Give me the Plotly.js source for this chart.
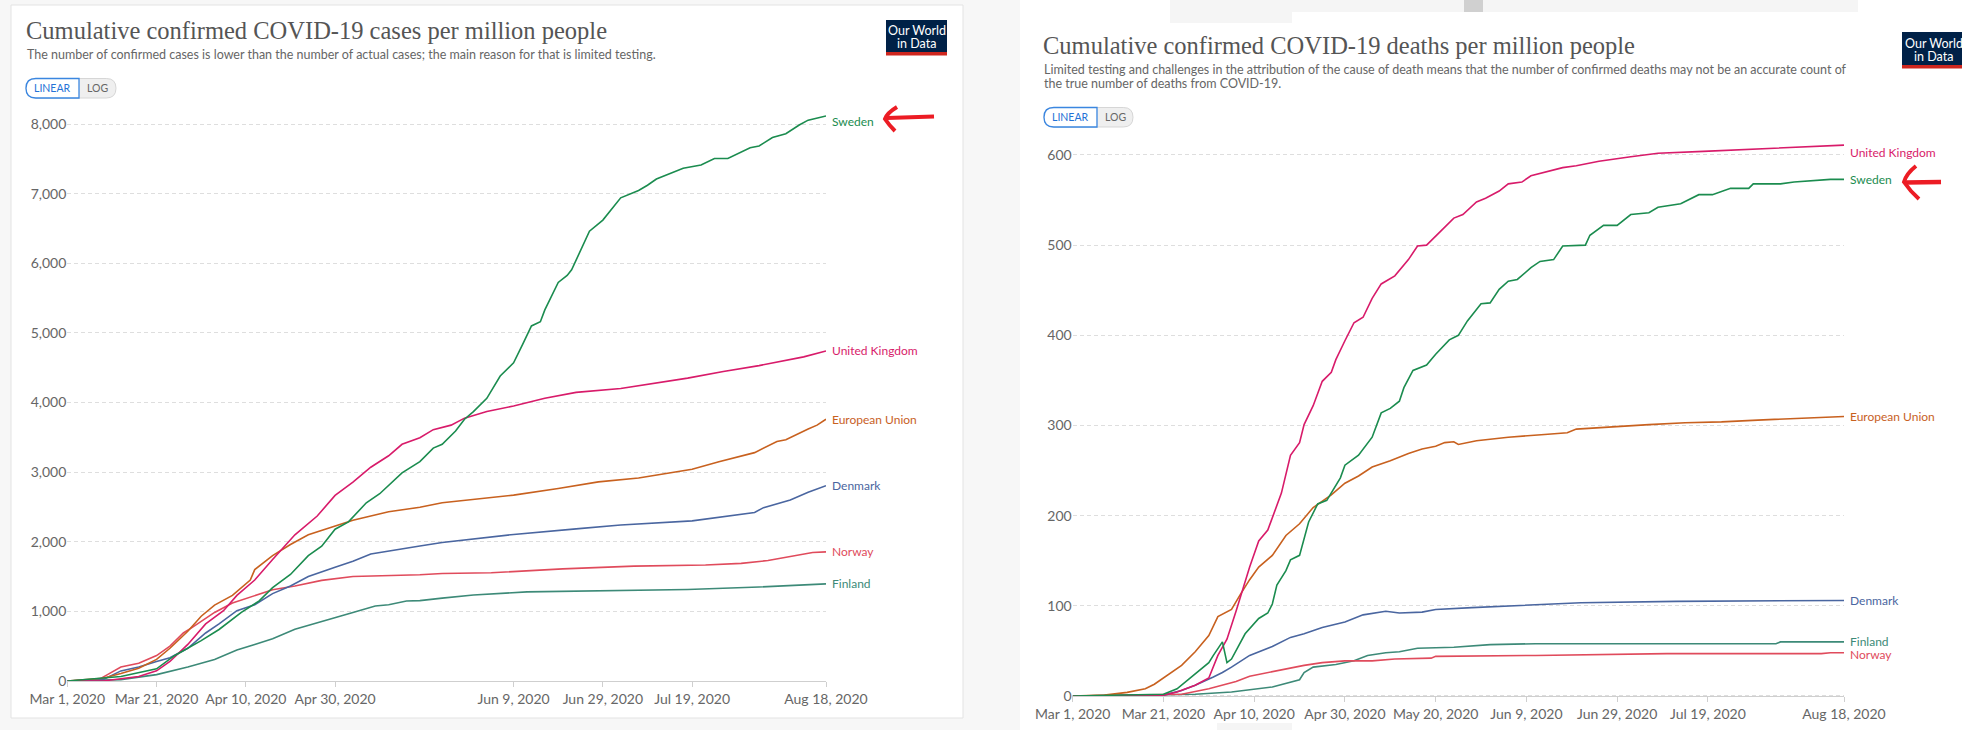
<!DOCTYPE html>
<html>
<head>
<meta charset="utf-8">
<script src="https://cdn.plot.ly/plotly-3.0.1.min.js"></script>
<style>
  html, body { margin: 0; padding: 0; background: #f7f7f7; }
  #chart { width: 1962px; height: 730px; }
</style>
</head>
<body>
<div id="chart"></div>
<script>
// ---- data (days counted from Mar 1, 2020) ----
const countries = ['Sweden', 'United Kingdom', 'European Union', 'Denmark', 'Norway', 'Finland'];

// cumulative confirmed cases per million
const casesSwedenDays = [0,12,20,24,30,34,39,43,46,50,54,57,60,63,67,70,75,79,82,84,87,89,91,94,97,100,102,104,106,107,110,112,113,117,120,124,128,130,132,138,142,145,148,153,155,158,161,164,166,170];
const casesSwedenVals = [1,65,175,363,580,740,985,1150,1340,1530,1800,1935,2180,2285,2560,2690,2990,3150,3345,3400,3590,3760,3870,4060,4380,4570,4830,5100,5160,5330,5725,5825,5905,6460,6620,6940,7045,7120,7210,7365,7410,7505,7505,7660,7685,7805,7860,7985,8055,8115];
const casesUKDays = [0,8,16,20,23,27,31,35,38,42,46,51,56,60,64,68,72,75,79,82,86,89,94,100,107,114,124,131,139,147,155,165,170];
const casesUKVals = [0,0,65,146,280,525,820,1010,1230,1450,1745,2100,2370,2665,2855,3070,3235,3400,3495,3610,3675,3775,3870,3950,4060,4145,4200,4265,4350,4445,4530,4655,4740];
const casesEUDays = [0,4,8,12,16,20,23,27,30,33,37,41,42,46,50,54,60,64,72,79,84,90,100,110,119,128,135,140,146,154,159,161,166,168,170];
const casesEUVals = [0,20,40,108,184,310,470,715,930,1090,1230,1450,1600,1800,1960,2100,2230,2310,2430,2495,2560,2600,2670,2765,2860,2915,2985,3040,3150,3280,3440,3465,3620,3675,3760];
const casesDenmarkDays = [0,8,12,16,20,23,27,31,34,38,42,46,50,54,60,64,68,75,79,84,90,100,114,124,140,149,154,156,159,162,166,170];
const casesDenmarkVals = [0,20,145,200,280,335,470,690,820,1010,1095,1255,1365,1500,1635,1720,1825,1905,1940,1990,2035,2105,2185,2240,2300,2380,2420,2490,2545,2600,2710,2805];
const casesNorwayDays = [0,7,9,12,16,20,23,26,28,33,37,42,46,51,57,64,72,79,84,95,111,127,143,151,157,163,167,170];
const casesNorwayVals = [0,20,92,200,255,365,500,690,770,985,1120,1230,1310,1365,1445,1500,1510,1525,1545,1555,1610,1650,1665,1690,1730,1800,1845,1855];
const casesFinlandDays = [0,12,20,27,33,38,42,46,51,57,60,64,69,72,76,79,84,91,103,119,139,155,170];
const casesFinlandVals = [0,20,92,200,310,445,525,607,742,850,905,985,1078,1095,1150,1155,1190,1235,1280,1295,1315,1350,1395];

// cumulative confirmed deaths per million
const deathsSwedenDays = [0,20,23,27,30,31,33,34,35,38,41,43,44,45,47,48,50,52,54,56,59,60,62,63,66,68,70,72,73,75,78,80,83,85,87,90,92,94,96,98,101,103,106,108,113,114,117,120,123,127,129,134,138,141,145,149,150,156,159,167,170];
const deathsSwedenVals = [0,2,8,24,37,45,60,37,41,69,86,92,102,123,139,151,156,193,213,217,242,256,264,267,287,314,319,327,342,361,367,379,395,400,416,435,436,451,460,462,475,482,484,499,500,511,522,522,534,536,542,546,556,556,563,563,568,568,570,573,573];
const deathsUKDays = [0,10,20,23,27,30,32,34,36,39,41,43,46,48,50,51,53,55,57,58,60,62,64,66,68,71,74,76,78,80,82,84,86,89,91,94,96,99,101,104,108,111,116,123,129,139,151,159,170];
const deathsUKVals = [0,0,1,4.5,12,20,45,63,94,143,172,184,225,267,281,301,322,349,359,373,394,414,420,441,457,466,484,499,500,510,521,530,534,548,552,560,568,570,577,581,586,588,593,598,602,604,607,609,611];
const deathsEUDays = [0,7,12,16,18,20,24,27,30,32,35,37,39,41,44,47,50,53,57,60,63,66,70,74,77,80,82,84,85,89,96,104,109,111,120,127,135,143,151,159,170];
const deathsEUVals = [0,1,4,8,13,20,34,49,67,88,96,113,129,143,156,178,191,209,223,236,244,254,261,269,274,277,281,282,279,283,287,290,292,296,299,301,303,304,306,308,310];
const deathsDenmarkDays = [0,20,24,27,31,33,35,39,44,48,51,55,60,64,69,72,77,80,88,100,112,133,155,170];
const deathsDenmarkVals = [0,1,6,12,21,26,32,45,55,65,69,76,82,90,94,92,93,96,98,101,103.5,105,106,106];
const deathsNorwayDays = [0,24,30,33,36,39,43,47,51,55,60,66,71,79,80,102,113,131,165,167,170];
const deathsNorwayVals = [0,2,8,12,16,22,26,30,34,37,39,39,41,42,44,45,45.6,47,47,48,48];
const deathsFinlandDays = [0,27,35,40,44,50,51,53,58,62,65,69,72,76,84,92,102,155,156,170];
const deathsFinlandVals = [0,2,4.5,8,10,18,26,32,35,39,45,48,49,53,54,57,58,58,60,60];

const casesTickDates = ['2020-03-01','2020-03-21','2020-04-10','2020-04-30','2020-06-09','2020-06-29','2020-07-19','2020-08-18'];
const deathsTickDates = ['2020-03-01','2020-03-21','2020-04-10','2020-04-30','2020-05-20','2020-06-09','2020-06-29','2020-07-19','2020-08-18'];
const casesTicks = [0,1000,2000,3000,4000,5000,6000,7000,8000];
const deathsTicks = [0,100,200,300,400,500,600];

// ---- styling ----
const colors = {
    'Sweden': '#1b8c4f',
    'United Kingdom': '#d81b6a',
    'European Union': '#c8611f',
    'Denmark': '#4a66a0',
    'Norway': '#e04b5c',
    'Finland': '#3d8a78'
};

const W = 1962, H = 730;
const px = x => x / W;
const py = y => 1 - y / H;
const toDate = d => new Date(Date.UTC(2020, 2, 1 + d)).toISOString().slice(0, 10);

// build an svg path in paper coords from pixel points
function pathOf(cmds) {
    return cmds.map(c => {
        if (c === 'Z') return 'Z';
        const op = c[0];
        const pts = c.slice(1);
        let s = op;
        for (let i = 0; i < pts.length; i += 2) {
            s += ' ' + px(pts[i]).toFixed(5) + ',' + py(pts[i + 1]).toFixed(5);
        }
        return s;
    }).join(' ');
}

// pill shaped toggle (LINEAR | LOG)
function toggleShapes(x0, x1, xm, y0, y1) {
    const r = (y1 - y0) / 2;
    const whole = pathOf([
        ['M', x0 + r, y0], ['L', x1 - r, y0], ['Q', x1, y0, x1, y0 + r], ['Q', x1, y1, x1 - r, y1],
        ['L', x0 + r, y1], ['Q', x0, y1, x0, y0 + r], ['Q', x0, y0, x0 + r, y0], 'Z'
    ]);
    const left = pathOf([
        ['M', x0 + r, y0], ['L', xm, y0], ['L', xm, y1],
        ['L', x0 + r, y1], ['Q', x0, y1, x0, y0 + r], ['Q', x0, y0, x0 + r, y0], 'Z'
    ]);
    return [
        { type: 'path', xref: 'paper', yref: 'paper', path: whole, fillcolor: '#efefef', line: { color: '#d6d6d6', width: 1 } },
        { type: 'path', xref: 'paper', yref: 'paper', path: left, fillcolor: '#ffffff', line: { color: '#3a86e0', width: 1.3 } }
    ];
}

function rect(x0, y0, x1, y1, fill, line, layer) {
    return {
        type: 'rect', xref: 'paper', yref: 'paper', layer: layer || 'above',
        x0: px(x0), x1: px(x1), y0: py(y1), y1: py(y0),
        fillcolor: fill, line: line || { width: 0 }
    };
}

function txt(x, y, text, size, color, opts) {
    return Object.assign({
        xref: 'paper', yref: 'paper', x: px(x), y: py(y), text: text, showarrow: false,
        xanchor: 'left', yanchor: 'middle',
        font: { family: 'Lato, sans-serif', size: size, color: color }
    }, opts || {});
}

// ---- traces ----
const caseSeries = {
    'Sweden': [casesSwedenDays, casesSwedenVals],
    'United Kingdom': [casesUKDays, casesUKVals],
    'European Union': [casesEUDays, casesEUVals],
    'Denmark': [casesDenmarkDays, casesDenmarkVals],
    'Norway': [casesNorwayDays, casesNorwayVals],
    'Finland': [casesFinlandDays, casesFinlandVals]
};
const deathSeries = {
    'Sweden': [deathsSwedenDays, deathsSwedenVals],
    'United Kingdom': [deathsUKDays, deathsUKVals],
    'European Union': [deathsEUDays, deathsEUVals],
    'Denmark': [deathsDenmarkDays, deathsDenmarkVals],
    'Norway': [deathsNorwayDays, deathsNorwayVals],
    'Finland': [deathsFinlandDays, deathsFinlandVals]
};

const traces = [];
const annotations = [];
const labelShift = { cases: { 'Sweden': -6 }, deaths: { 'United Kingdom': -7, 'Norway': -2 } };

// draw order: lower ones first so Sweden/UK sit on top
const order = ['Finland', 'Norway', 'Denmark', 'European Union', 'United Kingdom', 'Sweden'];

[['cases', caseSeries, 'x', 'y'], ['deaths', deathSeries, 'x2', 'y2']].forEach(([key, series, xa, ya]) => {
    order.forEach(name => {
        const [days, vals] = series[name];
        traces.push({
            type: 'scatter', mode: 'lines', name: name,
            x: days.map(toDate), y: vals,
            xaxis: xa, yaxis: ya,
            line: { color: colors[name], width: 1.6 },
            hoverinfo: 'skip', showlegend: false
        });
        annotations.push({
            xref: xa, yref: ya,
            x: toDate(days[days.length - 1]), y: vals[vals.length - 1],
            text: name, showarrow: false, xanchor: 'left', yanchor: 'middle',
            xshift: 4, yshift: labelShift[key][name] || 0,
            font: { family: 'Lato, sans-serif', size: 12, color: colors[name] }
        });
    });
});

// ---- titles / header text ----
const serif = '"Liberation Serif", "DejaVu Serif", serif';
annotations.push(
    txt(24, 31, 'Cumulative confirmed COVID-19 cases per million people', 24.5, '#555',
        { font: { family: serif, size: 24.5, color: '#555' } }),
    txt(25, 55, 'The number of confirmed cases is lower than the number of actual cases; the main reason for that is limited testing.', 12.5, '#666'),
    txt(1041, 45, 'Cumulative confirmed COVID-19 deaths per million people', 24.5, '#555',
        { font: { family: serif, size: 24.5, color: '#555' } }),
    txt(1042, 70, 'Limited testing and challenges in the attribution of the cause of death means that the number of confirmed deaths may not be an accurate count of', 12.5, '#666'),
    txt(1042, 83, 'the true number of deaths from COVID-19.', 12.5, '#666'),
    // toggles
    txt(52.5, 88.5, 'LINEAR', 10.5, '#2472d6', { xanchor: 'center' }),
    txt(97.5, 88.5, 'LOG', 10.5, '#666', { xanchor: 'center' }),
    txt(1070.5, 117.5, 'LINEAR', 10.5, '#2472d6', { xanchor: 'center' }),
    txt(1115, 117.5, 'LOG', 10.5, '#666', { xanchor: 'center' }),
    // logos
    txt(916.5, 30.5, 'Our World', 12.5, '#fff', { xanchor: 'center' }),
    txt(916.5, 43.5, 'in Data', 12.5, '#fff', { xanchor: 'center' }),
    txt(1903, 43, 'Our World', 12.5, '#fff'),
    txt(1933, 56, 'in Data', 12.5, '#fff', { xanchor: 'center' })
);

// ---- shapes ----
const shapes = [
    rect(11, 5, 963, 718, '#ffffff', { color: '#e3e3e3', width: 1 }, 'below'),
    rect(1020, 0, 1970, 735, '#ffffff', { width: 0 }, 'below'),
    rect(1170, 0, 1292, 23, '#f5f5f5', { width: 0 }, 'below'),
    rect(1292, 0, 1858, 12, '#f5f5f5', { width: 0 }, 'below'),
    rect(1464, 0, 1483, 12, '#d0d0d0', { width: 0 }, 'below'),
    rect(1217, 723, 1292, 735, '#f5f5f5', { width: 0 }, 'below'),
    // logos
    rect(886, 20, 947, 52, '#002147'),
    rect(886, 52, 947, 55.5, '#ce261e'),
    rect(1902, 32, 1970, 65, '#002147'),
    rect(1902, 65, 1970, 68.5, '#ce261e'),
    ...toggleShapes(26, 116, 79, 78.5, 98),
    ...toggleShapes(1044, 1133, 1097, 107.5, 127),
    // hand-drawn red arrows
    { type: 'path', xref: 'paper', yref: 'paper', line: { color: '#ec1c24', width: 4 },
      path: pathOf([['M', 934, 116.5], ['L', 887, 118]]) },
    { type: 'path', xref: 'paper', yref: 'paper', line: { color: '#ec1c24', width: 4 },
      path: pathOf([['M', 897, 107], ['Q', 887, 113, 885, 119], ['Q', 889, 125, 895, 131]]) },
    { type: 'path', xref: 'paper', yref: 'paper', line: { color: '#ec1c24', width: 4.5 },
      path: pathOf([['M', 1941, 182], ['L', 1906, 182.5]]) },
    { type: 'path', xref: 'paper', yref: 'paper', line: { color: '#ec1c24', width: 4 },
      path: pathOf([['M', 1916, 166], ['Q', 1906, 174, 1904, 182], ['Q', 1910, 191, 1919, 199]]) }
];

// ---- axes ----
const tickFont = { family: 'Lato, sans-serif', size: 14, color: '#666' };

function xAxis(domain, ticks, posY) {
    return {
        type: 'date', domain: domain, range: ['2020-03-01', '2020-08-18'],
        anchor: 'free', position: posY,
        tickvals: ticks, tickformat: '%b %-d, %Y',
        showgrid: false, zeroline: false,
        showline: true, linecolor: '#cfcfcf', linewidth: 1,
        ticks: 'outside', ticklen: 5, tickcolor: '#cfcfcf',
        tickfont: tickFont, fixedrange: true
    };
}
function yAxis(domain, range, ticks, anchor) {
    return {
        domain: domain, range: range, anchor: anchor,
        tickvals: ticks, tickformat: ',d',
        showgrid: true, gridcolor: '#dedede', griddash: '4px,3px', gridwidth: 1,
        zeroline: false, showline: false, ticks: '',
        tickfont: tickFont, fixedrange: true
    };
}

// cases: 0 at y=681px, 8000 at y=124px ; deaths: 0 at y=696px, 600 at y=155px
const casesK = (681 - 124) / 8000;
const deathsK = (696 - 155) / 600;
const casesRange = [-80, 8300];
const deathsRange = [-5, 625];

const layout = {
    width: W, height: H,
    margin: { l: 0, r: 0, t: 0, b: 0 },
    paper_bgcolor: '#f7f7f7',
    plot_bgcolor: 'rgba(0,0,0,0)',
    showlegend: false,
    font: { family: 'Lato, sans-serif', color: '#666' },
    xaxis: xAxis([px(67.3), px(826)], casesTickDates, py(681)),
    yaxis: yAxis([py(681 - casesRange[0] * casesK), py(681 - casesRange[1] * casesK)], casesRange, casesTicks, 'x'),
    xaxis2: xAxis([px(1072.7), px(1844)], deathsTickDates, py(696)),
    yaxis2: yAxis([py(696 - deathsRange[0] * deathsK), py(696 - deathsRange[1] * deathsK)], deathsRange, deathsTicks, 'x2'),
    shapes: shapes,
    annotations: annotations
};

Plotly.newPlot('chart', traces, layout, { staticPlot: true, displayModeBar: false, responsive: false });
</script>
</body>
</html>
